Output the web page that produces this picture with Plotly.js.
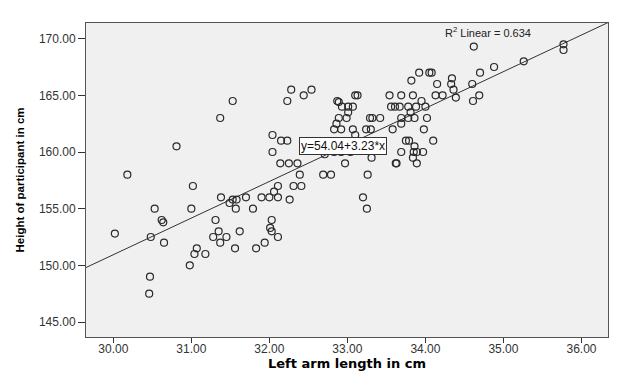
<!DOCTYPE html>
<html>
<head>
<meta charset="utf-8">
<script src="https://cdn.plot.ly/plotly-3.0.1.min.js"></script>
<style>
  html, body { margin: 0; padding: 0; background: #fff; }
  #chart { width: 621px; height: 377px; }
</style>
</head>
<body>
<div id="chart"></div>
<script>
// Left arm length (cm)
const armLength = [
  30.02, 30.18, 30.46, 30.47, 30.48, 30.53, 30.62, 30.64, 30.65, 30.81,
  30.98, 31.00, 31.02, 31.04, 31.07, 31.18, 31.28, 31.31, 31.35, 31.37,
  31.37, 31.38, 31.45, 31.49, 31.53, 31.53, 31.58, 31.57, 31.56, 31.62,
  31.70, 31.79, 31.83, 31.90, 31.94, 32.00, 32.03, 32.01, 32.03, 32.11,
  32.04, 32.04, 32.06, 32.11, 32.11, 32.14, 32.15, 32.23, 32.23, 32.25,
  32.26, 32.28, 32.31, 32.36, 32.39, 32.41, 32.44, 32.54, 32.69, 32.79,
  32.71, 32.83, 32.92, 33.04, 32.83, 32.92, 32.86, 32.89, 32.99, 32.87,
  32.89, 32.93, 33.01, 33.07, 33.01, 33.07, 32.97, 33.10, 33.10, 33.13,
  33.20, 33.25, 33.26, 33.24, 33.30, 33.29, 33.32, 33.42, 33.31, 33.54,
  33.56, 33.61, 33.67, 33.78, 33.88, 34.00, 33.58, 33.69, 33.84, 33.69,
  33.78, 33.86, 34.02, 33.69, 33.81, 33.98, 33.75, 33.79, 34.10, 33.86,
  33.69, 33.85, 33.89, 33.97, 33.84, 33.62, 33.63, 33.89, 33.95, 33.82,
  33.92, 34.05, 34.08, 34.15, 34.13, 34.22, 34.34, 34.33, 34.36, 34.39,
  34.60, 34.61, 34.69, 34.70, 34.62, 34.88, 35.26, 35.77, 35.77
];
// Height of participant (cm)
const height = [
  152.8, 158.0, 147.5, 149.0, 152.5, 155.0, 154.0, 153.8, 152.0, 160.5,
  150.0, 155.0, 157.0, 151.0, 151.5, 151.0, 152.5, 154.0, 153.0, 152.0,
  163.0, 156.0, 152.5, 155.5, 164.5, 155.8, 155.8, 155.0, 151.5, 153.0,
  156.0, 155.0, 151.5, 156.0, 152.0, 156.0, 154.0, 153.3, 153.0, 152.5,
  161.5, 160.0, 156.5, 157.0, 156.0, 159.0, 161.0, 161.0, 164.5, 159.0,
  155.8, 165.5, 157.0, 159.0, 158.0, 157.0, 165.0, 165.5, 158.0, 158.0,
  159.8, 160.0, 160.0, 160.0, 162.0, 162.0, 162.5, 163.0, 163.0, 164.5,
  164.4, 164.0, 164.0, 164.0, 163.5, 162.0, 159.0, 161.5, 165.0, 165.0,
  156.0, 155.0, 158.0, 162.0, 162.0, 163.0, 163.0, 163.0, 159.5, 165.0,
  164.0, 164.0, 164.0, 164.0, 164.0, 164.0, 162.0, 165.0, 165.0, 163.0,
  163.0, 163.0, 163.0, 162.5, 163.5, 162.0, 161.0, 161.0, 161.0, 160.5,
  160.0, 160.0, 160.0, 160.0, 159.5, 159.0, 159.0, 159.0, 164.5, 166.3,
  167.0, 167.0, 167.0, 166.0, 165.0, 165.0, 166.5, 166.0, 165.5, 164.8,
  166.0, 164.5, 165.0, 167.0, 169.3, 167.5, 168.0, 169.5, 169.0
];
// Linear fit reported in the chart
const intercept = [54.04];
const slope = [3.23];
const rSquared = [0.634];
const xRange = [29.65, 36.34];
const yRange = [143.68, 171.38];
const xTicks = [30, 31, 32, 33, 34, 35, 36];
const yTicks = [145, 150, 155, 160, 165, 170];

const fitX = xRange.slice();
const fitY = fitX.map(v => intercept[0] + slope[0] * v);

const FONT = '"Liberation Sans", Arial, sans-serif';

const traces = [
  {
    x: fitX, y: fitY, type: 'scatter', mode: 'lines',
    line: { color: '#333', width: 1 }, hoverinfo: 'skip', showlegend: false
  },
  {
    x: armLength, y: height, type: 'scatter', mode: 'markers',
    marker: { symbol: 'circle-open', size: 7, color: '#2a2a2a', line: { width: 1.2, color: '#2a2a2a' } },
    showlegend: false
  }
];

const layout = {
  width: 621, height: 377,
  margin: { l: 86, r: 13, t: 23, b: 40 },
  paper_bgcolor: '#ffffff',
  plot_bgcolor: '#f0f0f0',
  font: { family: FONT, size: 12, color: '#222' },
  showlegend: false,
  xaxis: {
    range: xRange, tickvals: xTicks, tickformat: '.2f',
    ticks: 'outside', ticklen: 5, tickcolor: '#333', tickwidth: 1,
    ticklabelstandoff: -4,
    showgrid: false, zeroline: false,
    showline: true, mirror: true, linecolor: '#555', linewidth: 1,
    tickfont: { family: FONT, size: 12, color: '#333' },
    title: { text: 'Left arm length in cm', standoff: 0,
             font: { family: '"DejaVu Sans", sans-serif', size: 13, color: '#000', weight: 'bold' } }
  },
  yaxis: {
    range: yRange, tickvals: yTicks, tickformat: '.2f',
    ticks: 'outside', ticklen: 7, tickcolor: '#333', tickwidth: 1,
    showgrid: false, zeroline: false,
    showline: true, mirror: true, linecolor: '#555', linewidth: 1,
    tickfont: { family: FONT, size: 12, color: '#333' },
    title: { text: 'Height of participant in cm', standoff: 11,
             font: { family: FONT, size: 11.5, color: '#000', weight: 'bold' } }
  },
  annotations: [
    {
      x: 32.94, y: 160.56, xref: 'x', yref: 'y',
      text: 'y=' + intercept[0].toFixed(2) + '+' + slope[0].toFixed(2) + '*x',
      showarrow: false, bgcolor: '#ffffff', bordercolor: '#333', borderwidth: 1, borderpad: 1,
      font: { family: FONT, size: 12, color: '#111' }
    },
    {
      x: 0.77, y: 0.972, xref: 'paper', yref: 'paper',
      text: 'R<sup>2</sup> Linear = ' + rSquared[0].toFixed(3),
      showarrow: false, xanchor: 'center', yanchor: 'middle',
      font: { family: FONT, size: 11, color: '#222' }
    }
  ]
};

Plotly.newPlot('chart', traces, layout, { displayModeBar: false, staticPlot: true });
</script>
</body>
</html>
